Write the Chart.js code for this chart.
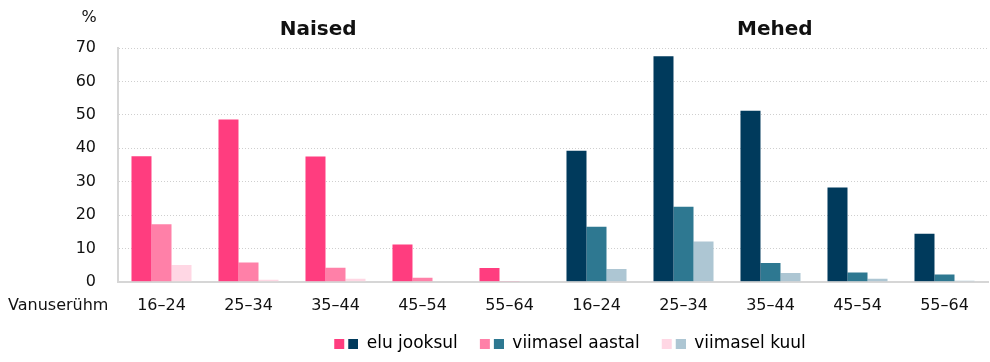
<!DOCTYPE html>
<html>
<head>
<meta charset="utf-8">
<script src="https://cdn.jsdelivr.net/npm/chart.js@4.4.0/dist/chart.umd.min.js"></script>
<style>
  html, body { margin: 0; padding: 0; background: #fff; }
  #wrap { width: 990px; height: 362px; }
</style>
</head>
<body>
<div id="wrap"><canvas id="chart"></canvas></div>
<script>
const ageGroups = ["16–24", "25–34", "35–44", "45–54", "55–64"];
const groupTitles = ["Naised", "Mehed"];
const seriesNames = ["elu jooksul", "viimasel aastal", "viimasel kuul"];

const naisedLife  = [37.6, 48.6, 37.5, 11.2, 4.1];
const naisedYear  = [17.2, 5.8, 4.2, 1.2, 0.1];
const naisedMonth = [5.0, 0.6, 0.9, 0.2, 0];
const mehedLife   = [39.2, 67.5, 51.2, 28.2, 14.4];
const mehedYear   = [16.5, 22.5, 5.6, 2.8, 2.2];
const mehedMonth  = [3.8, 12.1, 2.6, 0.9, 0.3];

const yMax = 70;
const yStep = 10;

const pinkColors = ["#ff3d7f", "#ff80a8", "#ffd7e4"];
const blueColors = ["#003a5c", "#2e7891", "#adc6d3"];

const FONT = "'DejaVu Sans', sans-serif";

const labels = [...ageGroups, ...ageGroups];
const seriesData = [
  [...naisedLife, ...mehedLife],
  [...naisedYear, ...mehedYear],
  [...naisedMonth, ...mehedMonth],
];

const datasets = seriesNames.map((name, i) => ({
  label: name,
  data: seriesData[i],
  backgroundColor: labels.map((_, j) => j < ageGroups.length ? pinkColors[i] : blueColors[i]),
  categoryPercentage: 0.69,
  barPercentage: 1.0,
}));

// two small squares for each legend entry (women + men colour),
// with blank space on the left to widen the gap between entries
function legendSwatch(i) {
  const c = document.createElement("canvas");
  c.width = 40; c.height = 10;
  const g = c.getContext("2d");
  g.fillStyle = pinkColors[i]; g.fillRect(16, 0, 10, 10);
  g.fillStyle = blueColors[i]; g.fillRect(30, 0, 10, 10);
  return c;
}

const extraText = {
  id: "extraText",
  afterLayout(chart) {
    // legend sits a bit right of the canvas centre in the original
    const lg = chart.legend;
    lg.left += 68;
    lg.right += 68;
  },
  afterDraw(chart) {
    const { ctx, chartArea, scales } = chart;
    ctx.save();
    ctx.fillStyle = "#111";
    ctx.textBaseline = "middle";

    ctx.font = "bold 20px " + FONT;
    ctx.textAlign = "center";
    const w = chartArea.right - chartArea.left;
    ctx.fillText(groupTitles[0], chartArea.left + w * 0.23, 30);
    ctx.fillText(groupTitles[1], chartArea.left + w * 0.755, 30);

    ctx.font = "16px " + FONT;
    ctx.fillText("%", chartArea.left - 29, 18);

    ctx.textAlign = "left";
    ctx.fillText("Vanuserühm", 8, scales.x.top + 24);
    ctx.restore();
  }
};

new Chart(document.getElementById("chart"), {
  type: "bar",
  data: { labels, datasets },
  options: {
    responsive: true,
    maintainAspectRatio: false,
    animation: false,
    layout: { padding: { top: 48, right: 2, left: 0, bottom: 0 } },
    scales: {
      x: {
        grid: { display: false, drawTicks: false },
        border: { display: true, color: "#d6d6d6", width: 2 },
        ticks: { color: "#111", font: { family: FONT, size: 16 }, padding: 14, maxRotation: 0 },
      },
      y: {
        min: 0,
        max: yMax,
        afterFit: s => { s.width = 118; },
        grid: { color: "#cfcfcf", lineWidth: 1, drawTicks: false },
        border: { display: true, color: "#d6d6d6", width: 2, dash: [1, 2] },
        ticks: { stepSize: yStep, color: "#111", font: { family: FONT, size: 16 }, padding: 22 },
      },
    },
    plugins: {
      tooltip: { enabled: false },
      legend: {
        position: "bottom",
        labels: {
          usePointStyle: true,
          pointStyleWidth: 40,
          padding: 6,
          color: "#111",
          font: { family: FONT, size: 17 },
          generateLabels: () => seriesNames.map((name, i) => ({
            text: name,
            pointStyle: legendSwatch(i),
            fillStyle: pinkColors[i],
            strokeStyle: "transparent",
            lineWidth: 0,
            datasetIndex: i,
            hidden: false,
          })),
        },
      },
    },
  },
  plugins: [extraText],
});
</script>
</body>
</html>
